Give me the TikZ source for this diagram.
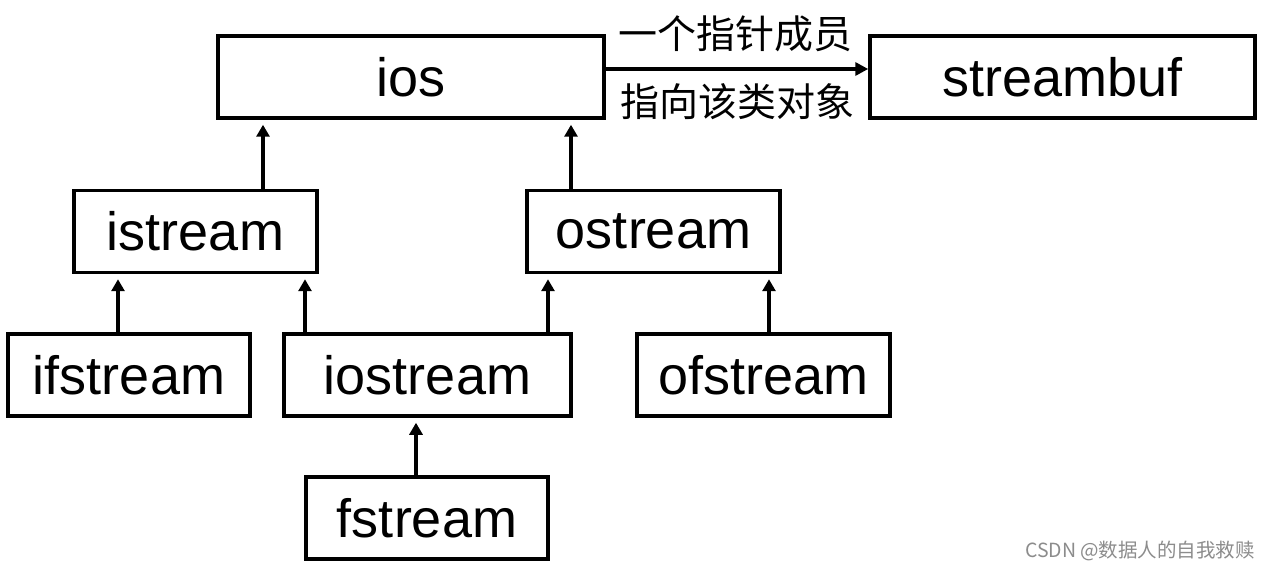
\documentclass[tikz,border=0pt]{standalone}
\usepackage{fontspec}
\setmainfont{Liberation Sans}
\newfontfamily\cjk{Noto Sans CJK SC}
\usetikzlibrary{arrows.meta}
\begin{document}
\begin{tikzpicture}[x=1pt,y=-1pt,
  box/.style={draw=black, line width=3.5pt, minimum height=82pt, inner sep=0pt,
    font=\fontsize{54}{60}\selectfont},
  arr/.style={line width=3.5pt, -{Triangle[length=12pt,width=13pt]}, shorten >=5pt}]
\useasboundingbox[fill=white] (0,0) rectangle (1270,572);
\node[box, minimum width=386pt] (ios) at (411,77) {ios};
\node[box, minimum width=385pt] (streambuf) at (1062.5,77) {streambuf};
\node[box, minimum width=243pt] (istream) at (195.5,231.5) {istream};
\node[box, minimum width=253pt] (ostream) at (653.5,231.5) {ostream};
\node[box, minimum width=242pt] (ifstream) at (129,375) {ifstream};
\node[box, minimum width=287pt] (iostream) at (427.5,375) {iostream};
\node[box, minimum width=253pt] (ofstream) at (763.5,375) {ofstream};
\node[box, minimum width=242pt] (fstream) at (427,518) {fstream};
% inheritance arrows
\draw[arr] ([xshift=67.5pt]istream.north) coordinate (a1) -- (ios.south -| a1);
\draw[arr] ([xshift=-82.5pt]ostream.north) coordinate (a2) -- (ios.south -| a2);
\draw[arr] ([xshift=-11pt]ifstream.north) coordinate (a3) -- (istream.south -| a3);
\draw[arr] ([xshift=-122.5pt]iostream.north) coordinate (a4) -- (istream.south -| a4);
\draw[arr] ([xshift=120.5pt]iostream.north) coordinate (a5) -- (ostream.south -| a5);
\draw[arr] ([xshift=5.5pt]ofstream.north) coordinate (a6) -- (ostream.south -| a6);
\draw[arr] ([xshift=-11pt]fstream.north) coordinate (a7) -- (iostream.south -| a7);
% pointer member arrow
\draw[line width=3.5pt, -{Triangle[length=13pt,width=13pt]}] ([yshift=8pt]ios.east) coordinate (p) -- (streambuf.west |- p);
\node[font=\cjk\fontsize{39}{42}\selectfont] (l1) at (735,34) {一个指针成员};
\node[font=\cjk\fontsize{39}{42}\selectfont] (l2) at (737,102) {指向该类对象};
\node[text=black!45, font=\cjk\fontsize{19.5}{22}\selectfont] (wm) at (1140,551) {CSDN @数据人的自我救赎};
\end{tikzpicture}
\end{document}
